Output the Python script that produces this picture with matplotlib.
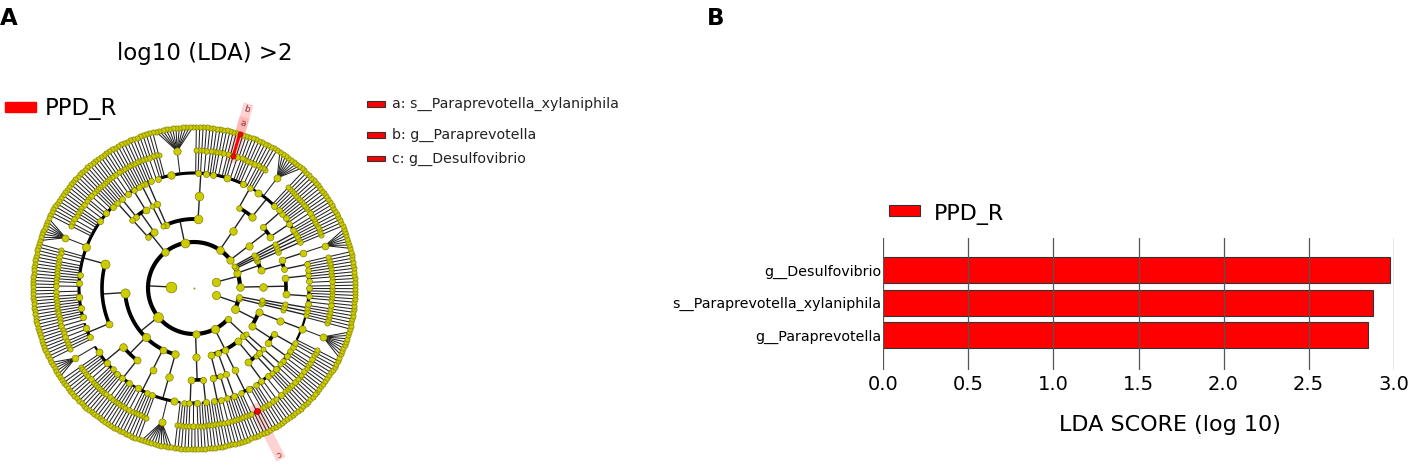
import numpy as np
import matplotlib
matplotlib.use('Agg')
import matplotlib.pyplot as plt
from matplotlib.patches import Rectangle, Polygon

plt.rcParams['font.family'] = 'DejaVu Sans'

# ---- cladogram tree (counter-clockwise order) ----
# int n = clade with n terminal children, list = clade with sub-clades,
# (name, spec) = named clade, str = named terminal clade
k3 = [
    [[[[1, 1], [2, 1], [1, 1]], [[2], [1, 1]]], [[[1, 9, 1]]]],
    [[[[1]]]],
    [[[[1, 1]]], [[[1]]]],
]
k2 = [
    [[[[1, 2], [1, 1, 1], [1, 1, 1]], [[2, 1], [1, 1], [1, 1]]]],
    [[[[1, 1, 1]], [[7]]], [[[1, 1]]]],
    [[[[1]]]],
    [[[[1, 1]]]],
    [[[[1]]]],
]
p1 = [[[[1, 1], [2, 1], [1, 1, 1]], [[1, 1], [1, 1]]]]
p2 = [[[[1, 1, 1], [9, 1]], [[1, 1]]]]
p3 = [
    [[[1, 2, 1, 1],
      [1, 1, 2, ('g__Paraprevotella', ['s__Paraprevotella_xylaniphila']), 1, 1, 2],
      [1, 1, 1], [1, 2], [1, 1, 1], [12, 1, 1], [1, 2]]],
    [[[1, 1, 1], [1, 1]]],
    [[[1]]],
]
p4 = [[[[1, 1], [1, 1], [1, 2, 1]], [[1, 1, 1]]], [[[1, 1]]]]
clostridia = [
    [[1, 1, 1], [2, 1, 1], [2, 1, 1], [1, 1, 2, 1, 1, 8, 1, 1, 2, 1, 1, 1],
     [1, 1, 1], [1, 1, 2], [2, 1, 1, 1, 1], [1, 1, 1, 1], [1, 1, 2]],
    [[1, 1, 2, 1], [1, 1, 1]],
]
bacilli = [
    [[6, 1, 1, 1], [1, 1, 2, 1], [1, 1]],
    [[1, 1, 1], [1, 2], [1, 1, 1]],
]
erysipelotrichi = [[[1, 1, 1, 2, 1], [1, 1]]]
negativicutes = [[[1, 1, 1], [10, 1]]]
p5 = [clostridia, bacilli, erysipelotrichi, negativicutes]
p6 = [[[[1, 1], [1, 1], [2, 1, 1]], [[1, 1, 1, 1]]]]
p7 = [
    [[[1, 1, 1], [1, 2]], [[1, 1]]],
    [[[1, 1, 1, 1]]],
    [[[1, 1], [('g__Desulfovibrio', 3), 1, 1]]],
    [[[1, 1], [2, 1], [3, 1]], [[1]]],
]
p8 = [[[[1, 1, 2]]], [[[1]]]]
bacteria = [p1, p2, p3, p4, p5, p6, p7, p8]
tree = [k3, k2, bacteria]

biomarkers = ['s__Paraprevotella_xylaniphila', 'g__Paraprevotella', 'g__Desulfovibrio']
letters = ['a', 'b', 'c']
group = 'PPD_R'

# ---- LDA bar data (bottom to top) ----
bar_taxa = ['g__Paraprevotella', 's__Paraprevotella_xylaniphila', 'g__Desulfovibrio']
lda_scores = [2.85, 2.88, 2.98]
lda_ticks = [0.0, 0.5, 1.0, 1.5, 2.0, 2.5, 3.0]

# ---- layout / style ----
cx, cy = 194, 288          # cladogram centre (pixels)
ring = 23                  # distance between taxonomic levels
start = -40.7              # angle of first terminal
yellow, yedge = '#cccc00', '#7a7a00'
red = '#ff0000'

nodes = []
count = [0]


def build(spec, level, name=None):
    if isinstance(spec, tuple):
        return build(spec[1], level, spec[0])
    if isinstance(spec, str):
        name, spec = spec, 0
    node = {'level': level, 'name': name}
    if isinstance(spec, int):
        node['children'] = [build(0, level + 1) for _ in range(spec)]
    else:
        node['children'] = [build(s, level + 1) for s in spec]
    if not node['children']:
        node['leaf'] = count[0]
        count[0] += 1
    nodes.append(node)
    return node


root = build(tree, 0)
step = 360.0 / count[0]


def place(node):
    if 'leaf' in node:
        node['theta'] = start + (node['leaf'] + 0.5) * step
        node['n'] = 1
    else:
        for c in node['children']:
            place(c)
        node['theta'] = 0.5 * (node['children'][0]['theta'] + node['children'][-1]['theta'])
        node['n'] = sum(c['n'] for c in node['children'])


place(root)


def xy(theta, r):
    t = np.radians(theta)
    return cx + r * np.cos(t), cy - r * np.sin(t)


fig = plt.figure(figsize=(14.18, 4.70), dpi=100)
bg = fig.add_axes([0, 0, 1, 1])
bg.set_xlim(0, 1418)
bg.set_ylim(470, 0)
bg.axis('off')

arc_lw = {2: 3.0, 3: 2.8, 4: 2.6, 5: 2.2, 6: 1.6, 7: 1.0}
line_col = '#222222'


def arc(t0, t1, r, lw):
    th = np.linspace(t0, t1, 60)
    x, y = xy(th, r)
    bg.plot(x, y, color='black', lw=lw, zorder=2, solid_capstyle='butt')


def connect(p):
    kids = p['children']
    rp = ring * p['level']
    rc = rp + ring
    lev = p['level'] + 1
    if lev <= 5:
        # radial spoke at the parent angle, arc along the children ring
        x0, y0 = xy(p['theta'], rp)
        x1, y1 = xy(p['theta'], rc)
        bg.plot([x0, x1], [y0, y1], color=line_col, lw=1.0, zorder=2)
        arc(kids[0]['theta'], kids[-1]['theta'], rc, arc_lw[lev])
        return
    fan = lev == 7 and len(kids) >= 5
    if not fan and len(kids) > 1:
        arc(kids[0]['theta'], kids[-1]['theta'], rp, arc_lw[lev])
    for c in kids:
        hot = p['name'] in biomarkers and c['name'] in biomarkers
        col = red if hot else line_col
        lw = 2.2 if hot else 0.75
        t0 = p['theta'] if fan else c['theta']
        x0, y0 = xy(t0, rp)
        x1, y1 = xy(c['theta'], rc)
        bg.plot([x0, x1], [y0, y1], color=col, lw=lw, zorder=2.5 if hot else 2,
                solid_capstyle='butt')


def draw(node):
    if node['level'] > 0 and node['children']:
        connect(node)
    for c in node['children']:
        draw(c)


draw(root)

# shaded strips for biomarkers
r_out = ring * 7
for name, let in zip(biomarkers, letters):
    nd = next(n for n in nodes if n['name'] == name)
    r0 = ring * nd['level'] - 7
    r1 = r_out + (31 if nd['level'] < 7 else 17)
    t = np.radians(nd['theta'])
    u = np.array([np.cos(t), -np.sin(t)])
    v = np.array([np.sin(t), np.cos(t)]) * 5
    c0 = np.array([cx, cy])
    pts = [c0 + u * r0 + v, c0 + u * r1 + v, c0 + u * r1 - v, c0 + u * r0 - v]
    bg.add_patch(Polygon(pts, closed=True, facecolor='#ff9090', alpha=0.4,
                         edgecolor='none', zorder=1))
    lx, ly = xy(nd['theta'], r1 - 6)
    bg.text(lx, ly, let, fontsize=6.5, color='#8b3a3a', ha='center', va='center',
            rotation=nd['theta'] - 90, zorder=6)

# nodes
for nd in nodes:
    if nd['level'] == 0:
        x, y = xy(0, 0)
        bg.scatter([x], [y], s=2, color='#9a9a00', zorder=3, linewidths=0)
        continue
    x, y = xy(nd['theta'], ring * nd['level'])
    d = 4.4 + 1.15 * np.log1p(nd['n'])
    hot = nd['name'] in biomarkers
    bg.scatter([x], [y], s=(0.72 * d) ** 2,
               color=red if hot else yellow,
               edgecolors='#900000' if hot else yedge, linewidths=0.45,
               zorder=5 if hot else 3)

# panel A texts
bg.text(0, 25, 'A', fontsize=16.5, fontweight='bold', va='baseline')
bg.text(707, 25, 'B', fontsize=16.5, fontweight='bold', va='baseline')
bg.text(205, 60, 'log10 (LDA) >2', fontsize=16.5, ha='center', va='baseline')
bg.add_patch(Rectangle((5, 102), 31, 10, color=red, zorder=3))
bg.text(45, 115, group, fontsize=16.5, va='baseline')
leg_y = [104, 135, 158.5]
for name, let, yy in zip(biomarkers, letters, leg_y):
    bg.add_patch(Rectangle((367, yy - 2.7), 18, 5.4, facecolor=red,
                           edgecolor='#333333', lw=0.8, zorder=3))
    bg.text(392, yy + 4, f'{let}: {name}', fontsize=10.2, va='baseline',
            color='#222222')

# ---- panel B ----
ax = fig.add_axes([883 / 1418, 100 / 470, 511 / 1418, 132 / 470])
ypos = np.arange(len(bar_taxa))
ax.barh(ypos, lda_scores, height=0.8, color=red, edgecolor='#333333', lw=0.8)
ax.set_xlim(-0.002, 3.002)
ax.set_ylim(-1.077, 2.985)
ax.set_xticks(lda_ticks)
ax.set_xticklabels([f'{t:.1f}' for t in lda_ticks], fontsize=14)
ax.set_yticks(ypos)
ax.set_yticklabels(bar_taxa, fontsize=10.3)
ax.tick_params(length=0)
ax.tick_params(axis='x', pad=3.6)
ax.tick_params(axis='y', pad=1.5)
ax.set_axisbelow(False)
ax.grid(axis='x', color='#555555', lw=0.9)
for s in ax.spines.values():
    s.set_visible(False)

bg.add_patch(Rectangle((889, 205), 31, 11, facecolor=red, edgecolor='#333333',
                       lw=0.8, zorder=3))
bg.text(934, 220, group, fontsize=16, va='baseline')
bg.text(1170, 431, 'LDA SCORE (log 10)', fontsize=16, ha='center', va='baseline')

fig.savefig('out.png', dpi=100)
